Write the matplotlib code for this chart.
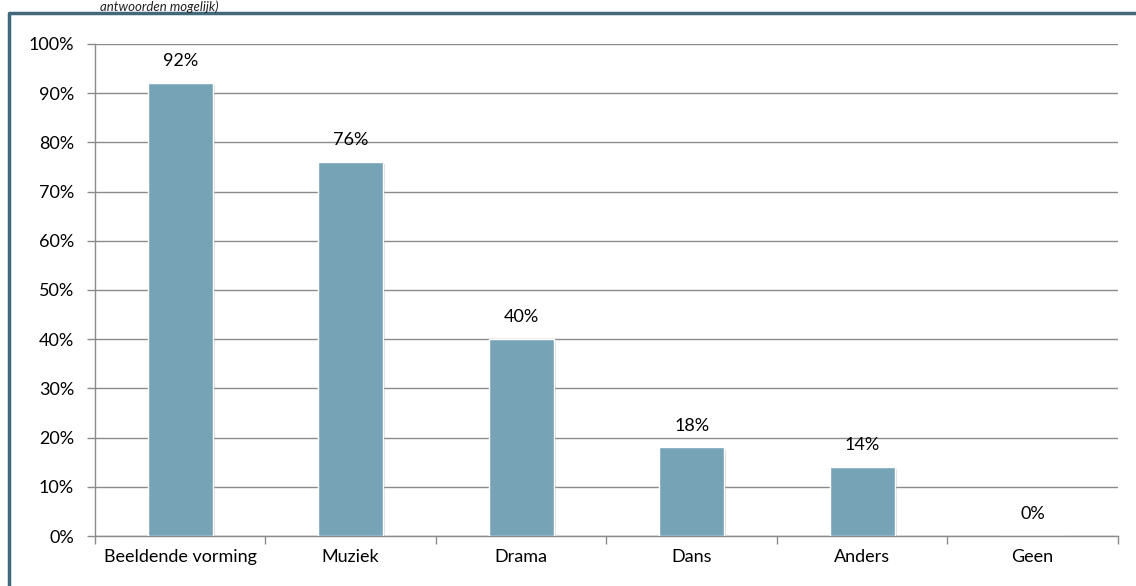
import numpy as np
import matplotlib
matplotlib.use("Agg")
import matplotlib.pyplot as plt
import matplotlib.patheffects as pe
from matplotlib.lines import Line2D

categories = ["Beeldende vorming", "Muziek", "Drama", "Dans", "Anders", "Geen"]
values = [92, 76, 40, 18, 14, 0]
y_ticks = [0, 10, 20, 30, 40, 50, 60, 70, 80, 90, 100]
y_labels = [f"{v}%" for v in y_ticks]

BAR_COLOR = "#77a3b7"
GRID_COLOR = "#8a8a8a"
FRAME_COLOR = "#41697b"
FS = 13

plt.rcParams["font.family"] = ["Lato", "DejaVu Sans"]

fig = plt.figure(figsize=(11.36, 5.86), dpi=100)
ax = fig.add_axes([0.0836, 0.0853, 0.9004, 0.8397])

x = np.arange(len(categories))
bars = ax.bar(x, values, width=0.38, color=BAR_COLOR, edgecolor="white",
              linewidth=1.0, zorder=3)
for b in bars:
    b.set_path_effects([pe.SimplePatchShadow(offset=(1.5, -1.5), alpha=0.25,
                                             shadow_rgbFace="#777777"),
                        pe.Normal()])

for xi, v in zip(x, values):
    ax.annotate(f"{v}%", (xi, v), xytext=(0, 10), textcoords="offset points",
                ha="center", va="bottom", fontsize=FS, color="black")

ax.set_xlim(-0.5, len(categories) - 0.5)
ax.set_ylim(0, 100)
ax.set_yticks(y_ticks)
ax.set_yticklabels(y_labels, fontsize=FS)
ax.yaxis.grid(True, color=GRID_COLOR, linewidth=1.0, zorder=0)
ax.set_axisbelow(True)

ax.set_xticks(x)
ax.set_xticklabels(categories, fontsize=FS)
ax.set_xticks(np.arange(-0.5, len(categories)), minor=True)
ax.tick_params(axis="x", which="major", length=0, pad=9)
ax.tick_params(axis="x", which="minor", length=6, color=GRID_COLOR, width=1.0)
ax.tick_params(axis="y", length=6, color=GRID_COLOR, width=1.0, pad=9)

for s in ["top", "right"]:
    ax.spines[s].set_visible(False)
for s in ["left", "bottom"]:
    ax.spines[s].set_color(GRID_COLOR)
    ax.spines[s].set_linewidth(1.0)

# outer frame (left and top edge visible)
fig.add_artist(Line2D([9 / 1136, 9 / 1136, 1.0], [0.0, 1 - 13 / 586, 1 - 13 / 586],
                      transform=fig.transFigure, color=FRAME_COLOR, linewidth=2.5))

# caption remnant above the frame
fig.text(0.088, 1.0, "antwoorden mogelijk)", fontsize=9.5, style="italic",
         color="#222222", ha="left", va="top")

fig.savefig("out.png", dpi=100)
